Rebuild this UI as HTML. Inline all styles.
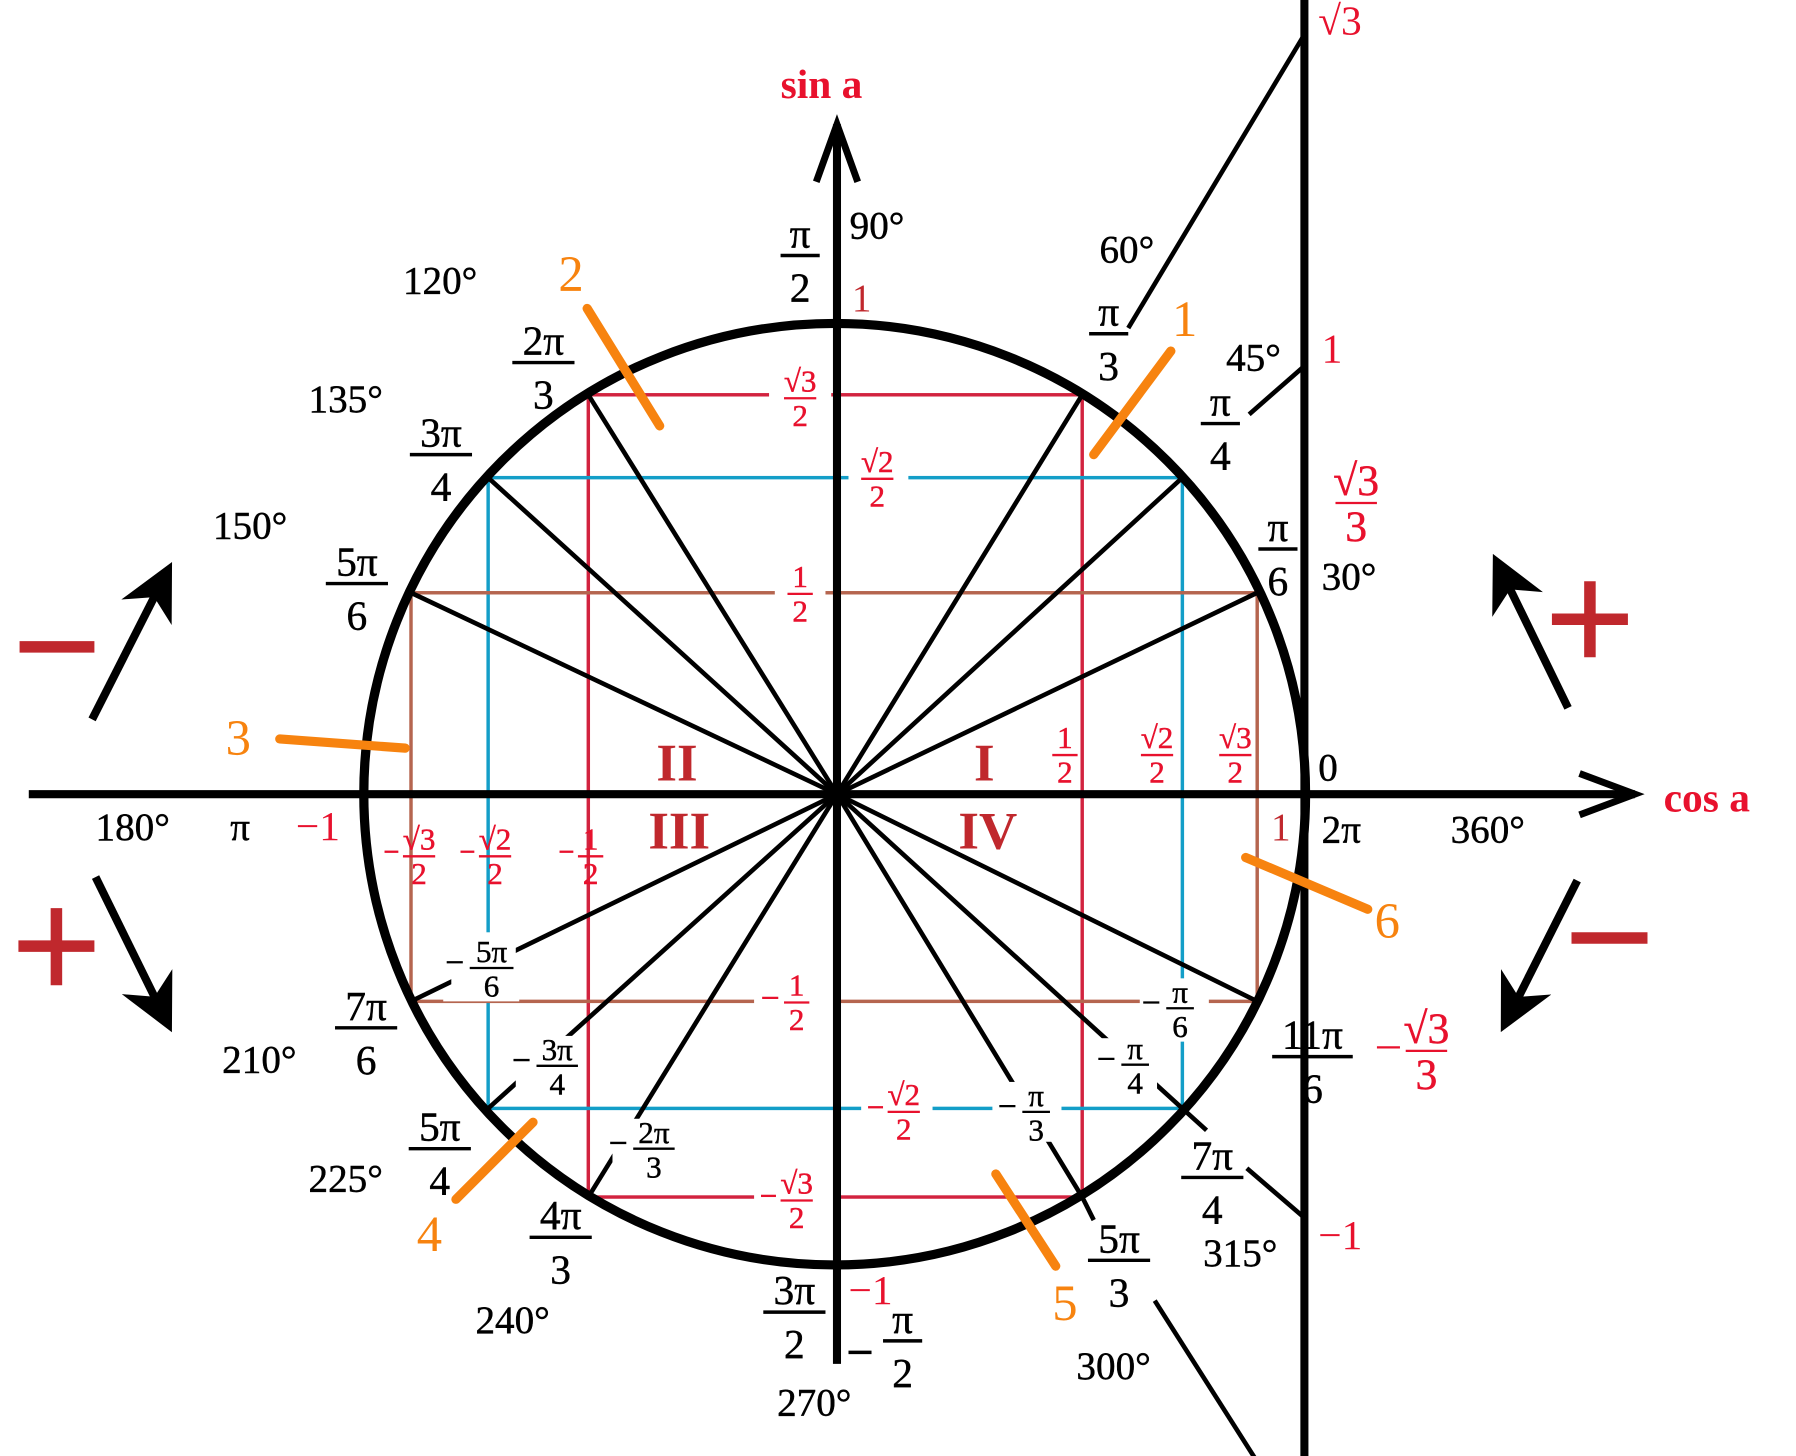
<!DOCTYPE html>
<html><head><meta charset="utf-8"><style>
html,body{margin:0;padding:0;background:#fff;}
svg{display:block;}
text{font-family:"Liberation Serif",serif;stroke-width:0.4px;}
.b{font-size:36px;fill:#000;stroke:#000;text-anchor:middle;}
.s{font-size:27px;fill:#000;stroke:#000;text-anchor:middle;}
.r{font-size:27px;fill:#e8112d;stroke:#e8112d;text-anchor:middle;}
.R{font-size:36px;fill:#e8112d;}
.d{font-size:34px;fill:#000;}
.d text{stroke:#000;}
.o{font-size:44px;fill:#f7830f;}
.rom{font-size:46px;fill:#c0282d;font-weight:bold;text-anchor:middle;}
</style></head><body>
<svg width="1796" height="1456" viewBox="0 0 1560 1265" preserveAspectRatio="none" xmlns="http://www.w3.org/2000/svg">
<defs>
<marker id="ah" viewBox="0 0 20 20" refX="16" refY="10" markerWidth="7" markerHeight="7" orient="auto" markerUnits="strokeWidth">
<path d="M0,0 L20,10 L0,20 L6,10 Z" fill="#000"/></marker>
</defs>
<g fill="none" stroke-width="3">
<rect x="511" y="343" width="429" height="697" stroke="#d2233f"/>
<rect x="424" y="415" width="603" height="548" stroke="#139ec8"/>
<rect x="357" y="515" width="735" height="355" stroke="#b5654f"/>
</g>
<g fill="#fff">
<rect x="668" y="320" width="54" height="55"/><rect x="737" y="390" width="52" height="55"/>
<rect x="673" y="490" width="44" height="55"/><rect x="655" y="845" width="74" height="55"/>
<rect x="748" y="940" width="62" height="55"/><rect x="655" y="1015" width="74" height="55"/>
<rect x="990" y="850" width="60" height="55"/><rect x="862" y="940" width="60" height="55"/>
<rect x="385" y="810" width="66" height="60"/><rect x="440" y="900" width="66" height="55"/>
<rect x="525" y="970" width="64" height="55"/><rect x="950" y="900" width="60" height="50"/>
</g>
<g stroke="#000" stroke-width="4">
<line x1="727" y1="690" x2="940" y2="343"/><line x1="727" y1="690" x2="1027" y2="415"/>
<line x1="727" y1="690" x2="1092" y2="515"/><line x1="727" y1="690" x2="1092" y2="870"/>
<line x1="727" y1="690" x2="1027" y2="963"/><line x1="727" y1="690" x2="940" y2="1040"/>
<line x1="727" y1="690" x2="511" y2="343"/><line x1="727" y1="690" x2="424" y2="415"/>
<line x1="727" y1="690" x2="357" y2="515"/><line x1="727" y1="690" x2="357" y2="870"/>
<line x1="727" y1="690" x2="424" y2="963"/><line x1="727" y1="690" x2="511" y2="1040"/>
<line x1="980" y1="285" x2="1133" y2="30"/><line x1="1085" y1="360" x2="1133" y2="318"/>
<line x1="1003" y1="1130" x2="1092" y2="1270"/>
<line x1="1083" y1="1015" x2="1133" y2="1058"/><line x1="1027" y1="963" x2="1048" y2="982"/>
<line x1="940" y1="1040" x2="950" y2="1060"/>
</g>
<g fill="#fff">
<rect x="392" y="815" width="56" height="52"/><rect x="448" y="900" width="56" height="52"/>
<rect x="532" y="972" width="56" height="52"/><rect x="870" y="940" width="48" height="52"/>
<rect x="955" y="902" width="50" height="50"/><rect x="995" y="852" width="50" height="50"/>
</g>
<circle cx="725" cy="690" r="409" fill="none" stroke="#000" stroke-width="8"/>
<g stroke="#000" stroke-width="7" fill="none">
<line x1="25" y1="690" x2="1420" y2="690"/>
<polyline points="1372,672 1420,690 1372,708" stroke-width="6"/>
<line x1="727" y1="1185" x2="727" y2="108"/>
<polyline points="709,158 727,108 745,158" stroke-width="6"/>
<line x1="1133" y1="0" x2="1133" y2="1265"/>
</g>
<g stroke="#000" stroke-width="7">
<line x1="80" y1="625" x2="145" y2="497" marker-end="url(#ah)"/>
<line x1="83" y1="762" x2="145" y2="888" marker-end="url(#ah)"/>
<line x1="1362" y1="615" x2="1301" y2="490" marker-end="url(#ah)"/>
<line x1="1370" y1="765" x2="1308" y2="888" marker-end="url(#ah)"/>
</g>
<g stroke="#c0282d" stroke-width="10">
<line x1="17" y1="562" x2="82" y2="562"/>
<line x1="16" y1="822" x2="82" y2="822"/><line x1="49" y1="789" x2="49" y2="856"/>
<line x1="1348" y1="538" x2="1414" y2="538"/><line x1="1381" y1="505" x2="1381" y2="571"/>
<line x1="1365" y1="815" x2="1431" y2="815"/>
</g>
<g stroke="#f7830f" stroke-width="8" stroke-linecap="round">
<line x1="1017" y1="305" x2="950" y2="395"/><line x1="510" y1="268" x2="573" y2="370"/>
<line x1="243" y1="642" x2="352" y2="650"/><line x1="463" y1="975" x2="396" y2="1042"/>
<line x1="865" y1="1020" x2="917" y2="1100"/><line x1="1082" y1="745" x2="1188" y2="790"/>
</g>
<text class="o" x="1018" y="292">1</text><text class="o" x="485" y="253">2</text>
<text class="o" x="196" y="656">3</text><text class="o" x="362" y="1087">4</text>
<text class="o" x="914" y="1147">5</text><text class="o" x="1194" y="815">6</text>
<g stroke="#000" stroke-width="3">
<line x1="678" y1="222" x2="712" y2="222"/><line x1="946" y1="290" x2="980" y2="290"/>
<line x1="1043" y1="368" x2="1077" y2="368"/><line x1="1093" y1="477" x2="1127" y2="477"/>
<line x1="445" y1="315" x2="499" y2="315"/><line x1="356" y1="395" x2="410" y2="395"/>
<line x1="283" y1="507" x2="337" y2="507"/><line x1="291" y1="893" x2="345" y2="893"/>
<line x1="355" y1="998" x2="409" y2="998"/><line x1="460" y1="1075" x2="514" y2="1075"/>
<line x1="663" y1="1140" x2="717" y2="1140"/><line x1="945" y1="1095" x2="999" y2="1095"/>
<line x1="1026" y1="1023" x2="1080" y2="1023"/><line x1="1105" y1="918" x2="1175" y2="918"/>
<line x1="767" y1="1165" x2="801" y2="1165"/><line x1="737" y1="1175" x2="757" y2="1175"/>
</g>
<g>
<text class="b" x="695" y="215">π</text><text class="b" x="695" y="262">2</text>
<text class="b" x="963" y="283">π</text><text class="b" x="963" y="330">3</text>
<text class="b" x="1060" y="361">π</text><text class="b" x="1060" y="408">4</text>
<text class="b" x="1110" y="470">π</text><text class="b" x="1110" y="517">6</text>
<text class="b" x="472" y="308">2π</text><text class="b" x="472" y="355">3</text>
<text class="b" x="383" y="388">3π</text><text class="b" x="383" y="435">4</text>
<text class="b" x="310" y="500">5π</text><text class="b" x="310" y="547">6</text>
<text class="b" x="318" y="886">7π</text><text class="b" x="318" y="933">6</text>
<text class="b" x="382" y="991">5π</text><text class="b" x="382" y="1038">4</text>
<text class="b" x="487" y="1068">4π</text><text class="b" x="487" y="1115">3</text>
<text class="b" x="690" y="1133">3π</text><text class="b" x="690" y="1180">2</text>
<text class="b" x="972" y="1088">5π</text><text class="b" x="972" y="1135">3</text>
<text class="b" x="1053" y="1016">7π</text><text class="b" x="1053" y="1063">4</text>
<text class="b" x="1140" y="911">11π</text><text class="b" x="1140" y="958">6</text>
<text class="b" x="784" y="1158">π</text><text class="b" x="784" y="1205">2</text>
</g>
<g stroke="#000" stroke-width="2">
<line x1="408" y1="841" x2="446" y2="841"/><line x1="466" y1="926" x2="502" y2="926"/>
<line x1="550" y1="998" x2="586" y2="998"/><line x1="888" y1="966" x2="912" y2="966"/>
<line x1="974" y1="925" x2="998" y2="925"/><line x1="1013" y1="876" x2="1037" y2="876"/>
<line x1="388" y1="836" x2="402" y2="836"/><line x1="446" y1="921" x2="460" y2="921"/>
<line x1="530" y1="993" x2="544" y2="993"/><line x1="868" y1="961" x2="882" y2="961"/>
<line x1="954" y1="920" x2="968" y2="920"/><line x1="993" y1="871" x2="1007" y2="871"/>
</g>
<g>
<text class="s" x="427" y="836">5π</text><text class="s" x="427" y="866">6</text>
<text class="s" x="484" y="921">3π</text><text class="s" x="484" y="951">4</text>
<text class="s" x="568" y="993">2π</text><text class="s" x="568" y="1023">3</text>
<text class="s" x="900" y="961">π</text><text class="s" x="900" y="991">3</text>
<text class="s" x="986" y="920">π</text><text class="s" x="986" y="950">4</text>
<text class="s" x="1025" y="871">π</text><text class="s" x="1025" y="901">6</text>
</g>
<g stroke="#e8112d" stroke-width="2">
<line x1="681" y1="346" x2="709" y2="346"/><line x1="748" y1="416" x2="776" y2="416"/>
<line x1="684" y1="516" x2="706" y2="516"/><line x1="914" y1="656" x2="936" y2="656"/>
<line x1="991" y1="656" x2="1019" y2="656"/><line x1="1059" y1="656" x2="1087" y2="656"/>
<line x1="350" y1="744" x2="378" y2="744"/><line x1="416" y1="744" x2="444" y2="744"/>
<line x1="502" y1="744" x2="524" y2="744"/><line x1="681" y1="871" x2="703" y2="871"/>
<line x1="771" y1="966" x2="799" y2="966"/><line x1="678" y1="1043" x2="706" y2="1043"/>
<line x1="1160" y1="437" x2="1196" y2="437"/><line x1="1221" y1="913" x2="1257" y2="913"/>
<line x1="334" y1="740" x2="346" y2="740"/><line x1="400" y1="740" x2="412" y2="740"/>
<line x1="486" y1="740" x2="498" y2="740"/><line x1="662" y1="867" x2="676" y2="867"/>
<line x1="754" y1="962" x2="767" y2="962"/><line x1="661" y1="1039" x2="674" y2="1039"/>
<line x1="1196" y1="910" x2="1216" y2="910"/>
</g>
<g>
<text class="r" x="695" y="340">√3</text><text class="r" x="695" y="370">2</text>
<text class="r" x="762" y="410">√2</text><text class="r" x="762" y="440">2</text>
<text class="r" x="695" y="510">1</text><text class="r" x="695" y="540">2</text>
<text class="r" x="925" y="650">1</text><text class="r" x="925" y="680">2</text>
<text class="r" x="1005" y="650">√2</text><text class="r" x="1005" y="680">2</text>
<text class="r" x="1073" y="650">√3</text><text class="r" x="1073" y="680">2</text>
<text class="r" x="364" y="738">√3</text><text class="r" x="364" y="768">2</text>
<text class="r" x="430" y="738">√2</text><text class="r" x="430" y="768">2</text>
<text class="r" x="513" y="738">1</text><text class="r" x="513" y="768">2</text>
<text class="r" x="692" y="865">1</text><text class="r" x="692" y="895">2</text>
<text class="r" x="785" y="960">√2</text><text class="r" x="785" y="990">2</text>
<text class="r" x="692" y="1037">√3</text><text class="r" x="692" y="1067">2</text>
<text class="r" x="1178" y="430" style="font-size:38px">√3</text><text class="r" x="1178" y="470" style="font-size:38px">3</text>
<text class="r" x="1239" y="906" style="font-size:38px">√3</text><text class="r" x="1239" y="946" style="font-size:38px">3</text>
</g>
<g class="d">
<text x="738" y="207">90°</text><text x="955" y="228">60°</text><text x="1065" y="322">45°</text>
<text x="1148" y="512">30°</text><text x="350" y="255">120°</text><text x="268" y="358">135°</text>
<text x="185" y="468">150°</text><text x="83" y="730">180°</text><text x="193" y="932">210°</text>
<text x="268" y="1035">225°</text><text x="413" y="1158">240°</text><text x="675" y="1230">270°</text>
<text x="935" y="1198">300°</text><text x="1045" y="1100">315°</text><text x="1260" y="732">360°</text>
<text x="200" y="730">π</text><text x="1148" y="732">2π</text><text x="1145" y="678">0</text>
</g>
<g class="R">
<text x="678" y="85" style="font-weight:bold">sin a</text>
<text x="1445" y="705" style="font-weight:bold">cos a</text>
<text x="1145" y="30">√3</text>
<text x="1148" y="315">1</text>
<text x="257" y="730">−1</text>
<text x="737" y="1133">−1</text>
<text x="1145" y="1085">−1</text>
</g>
<text x="740" y="270" style="font-size:34px;fill:#c0282d">1</text>
<text x="1104" y="730" style="font-size:34px;fill:#c0282d">1</text>
<text class="rom" x="588" y="678">II</text><text class="rom" x="855" y="678">I</text>
<text class="rom" x="590" y="737">III</text><text class="rom" x="858" y="737">IV</text>
</svg>
</body></html>
